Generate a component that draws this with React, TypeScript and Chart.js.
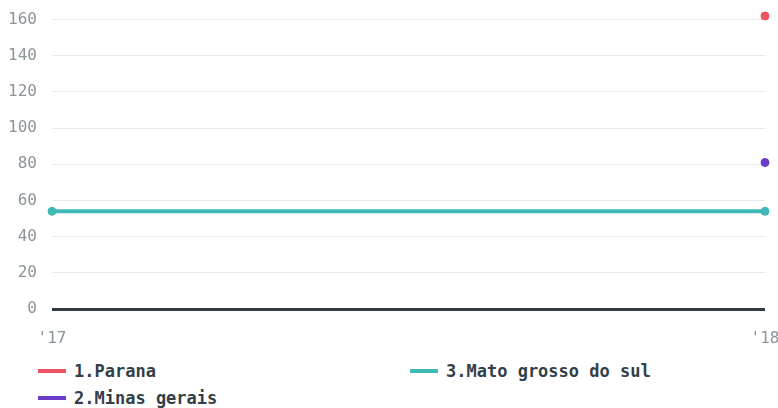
import React, { useEffect, useRef } from "react";
import { Chart, registerables } from "chart.js";

Chart.register(...registerables);

const categories = ["'17", "'18"];
const seriesNames = ["1.Parana", "2.Minas gerais", "3.Mato grosso do sul"];
const parana = [null, 162];
const minasGerais = [null, 81];
const matoGrosso = [54, 54];
const seriesColors = ["#ee5364", "#6a3cc8", "#3fb9b7"];
const yTicks = [0, 20, 40, 60, 80, 100, 120, 140, 160];

const legendOrder = [0, 2, 1];

export default function App() {
  const ref = useRef<HTMLCanvasElement | null>(null);

  useEffect(() => {
    document.body.style.margin = "0";
    if (!ref.current) return;
    const values = [parana, minasGerais, matoGrosso];
    const chart = new Chart(ref.current, {
      type: "line",
      data: {
        labels: categories,
        datasets: seriesNames.map((name, i) => ({
          label: name,
          data: values[i],
          borderColor: seriesColors[i],
          backgroundColor: seriesColors[i],
          borderWidth: 4,
          pointRadius: 4,
          pointBorderWidth: 1,
          pointHoverRadius: 4,
          clip: false as any,
          spanGaps: false,
        })),
      },
      options: {
        animation: false,
        responsive: false,
        layout: { padding: { left: 8, top: 16, right: 0, bottom: 3 }, autoPadding: false },
        plugins: { legend: { display: false }, tooltip: { enabled: false } },
        scales: {
          x: {
            offset: false,
            grid: { display: false, drawTicks: false },
            border: { display: false },
            ticks: {
              padding: 20,
              color: "#8a949a",
              font: { family: "DejaVu Sans Mono", size: 16 },
              maxRotation: 0,
            },
            afterFit: (scale: any) => {
              scale.height = 38;
              scale.paddingLeft = 0;
              scale.paddingRight = 13;
            },
          },
          y: {
            min: 0,
            max: 162,
            afterBuildTicks: (scale: any) => {
              scale.ticks = yTicks.map((v) => ({ value: v }));
            },
            grid: {
              drawTicks: false,
              color: (ctx: any) => (ctx.tick && ctx.tick.value === 0 ? "#2f3c45" : "#e9e9e9"),
              lineWidth: (ctx: any) => (ctx.tick && ctx.tick.value === 0 ? 3 : 1),
            },
            border: { display: false },
            ticks: {
              padding: 15,
              color: "#8a949a",
              font: { family: "DejaVu Sans Mono", size: 16 },
            },
            afterFit: (scale: any) => {
              scale.width = 44;
              scale.paddingTop = 0;
              scale.paddingBottom = 0;
            },
          },
        },
      },
    });
    return () => chart.destroy();
  }, []);

  return (
    <div style={{ width: 778 }}>
      <canvas ref={ref} width={778} height={350} style={{ display: "block" }} />
      <div
        style={{
          display: "grid",
          gridTemplateColumns: "372px 368px",
          paddingLeft: 38,
          marginTop: 7,
          fontFamily: "DejaVu Sans Mono",
          fontWeight: "bold",
          fontSize: 17,
          color: "#333f48",
        }}
      >
        {legendOrder.map((i) => (
          <div
            key={i}
            style={{ height: 27, display: "flex", alignItems: "center", whiteSpace: "nowrap" }}
          >
            <span
              style={{
                display: "inline-block",
                width: 28,
                height: 4,
                background: seriesColors[i],
                marginRight: 8,
                flexShrink: 0,
              }}
            />
            <span>{seriesNames[i]}</span>
          </div>
        ))}
      </div>
    </div>
  );
}
